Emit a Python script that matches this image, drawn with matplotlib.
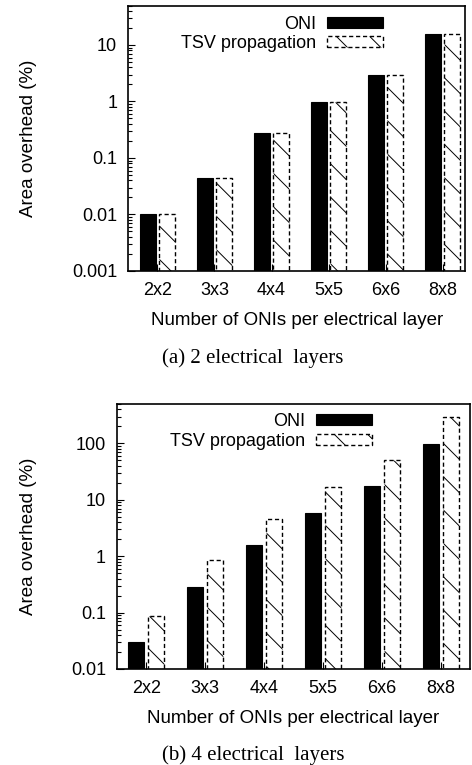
import numpy as np
import matplotlib
matplotlib.use('Agg')
import matplotlib.pyplot as plt
from matplotlib.ticker import LogLocator, NullFormatter

plt.rcParams['font.family'] = ['Liberation Sans', 'DejaVu Sans']
plt.rcParams['hatch.linewidth'] = 0.7

cats = ['2x2', '3x3', '4x4', '5x5', '6x6', '8x8']
oni_2 = [0.01, 0.045, 0.28, 0.96, 2.9, 15.5]   # 2 electrical layers
tsv_2 = [0.01, 0.045, 0.28, 0.96, 2.9, 15.5]
oni_4 = [0.03, 0.29, 1.56, 5.8, 17.5, 98]      # 4 electrical layers
tsv_4 = [0.087, 0.85, 4.6, 17.2, 51, 290]

yt_2 = [0.001, 0.01, 0.1, 1, 10]
ytl_2 = ['0.001', '0.01', '0.1', '1', '10']
yt_4 = [0.01, 0.1, 1, 10, 100]
ytl_4 = ['0.01', '0.1', '1', '10', '100']

fig = plt.figure(figsize=(4.72, 7.65), dpi=100)


def panel(rect, oni, tsv, yt, ytl, ylim, xlim, w, off, ylab_x, leg_xy, caption, cap_y):
    ax = fig.add_axes(rect)
    x = np.arange(len(cats))
    ax.bar(x - off, oni, w, color='black', edgecolor='black', linewidth=0.8, label='ONI')
    ax.bar(x + off, tsv, w, color='white', edgecolor='black', linewidth=1.0,
           linestyle=(0, (3, 2)), hatch='\\', label='TSV propagation')
    ax.set_yscale('log')
    ax.set_ylim(*ylim)
    ax.set_xlim(*xlim)
    ax.set_yticks(yt)
    ax.set_yticklabels(ytl)
    ax.yaxis.set_minor_locator(LogLocator(base=10, subs=np.arange(2, 10)))
    ax.yaxis.set_minor_formatter(NullFormatter())
    ax.set_xticks(x)
    ax.set_xticklabels(cats)
    ax.tick_params(axis='both', which='major', direction='in', labelsize=13, length=5, width=0.8,
                   right=False, top=False, pad=8)
    ax.tick_params(axis='y', which='minor', direction='in', length=3, width=0.8, right=False)
    for s in ax.spines.values():
        s.set_linewidth(1.2)
    ax.set_ylabel('Area overhead (%)', fontsize=13.5, va='center')
    ax.yaxis.set_label_coords(ylab_x, 0.5)
    ax.set_xlabel('Number of ONIs per electrical layer', fontsize=13.5, va='center')
    ax.xaxis.set_label_coords(0.5, -0.185)
    ax.legend(loc='upper right', bbox_to_anchor=leg_xy, frameon=False, fontsize=13,
              markerfirst=False, handlelength=3.1, handleheight=0.55, handletextpad=0.6,
              labelspacing=0.15, borderpad=0, borderaxespad=0)
    # caption under each panel, serif like the paper
    fig.text(253 / 472, 1 - cap_y / 765, caption, family=['Liberation Serif', 'DejaVu Serif'],
             fontsize=15, ha='center', va='center')
    return ax


panel([0.2718, 0.6458, 0.7134, 0.3470], oni_2, tsv_2, yt_2, ytl_2, (0.001, 50), (-0.51, 5.39),
      0.28, 0.167, -0.295, (0.756, 0.962), '(a) 2 electrical  layers', 358)
panel([0.2479, 0.1255, 0.7479, 0.3464], oni_4, tsv_4, yt_4, ytl_4, (0.01, 500), (-0.5, 5.5),
      0.27, 0.17, -0.25, (0.723, 0.965), '(b) 4 electrical  layers', 755)

fig.savefig('out.png', dpi=100)
